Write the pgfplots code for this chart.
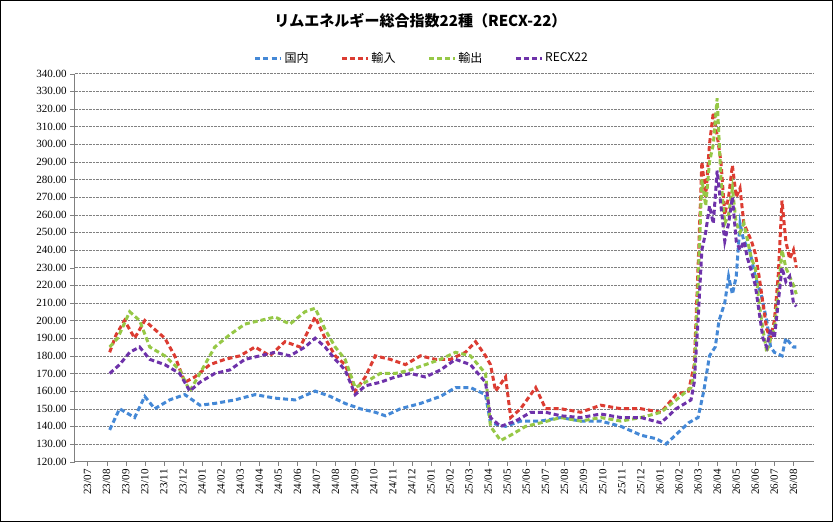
\documentclass[border=0pt]{standalone}
\usepackage{pgfplots}
\pgfplotsset{compat=1.18}
\usepackage{fontspec}
\setmainfont{Liberation Serif}
\newfontfamily\jp{Noto Sans CJK JP}
\definecolor{cB}{RGB}{68,136,214}
\definecolor{cR}{RGB}{220,60,50}
\definecolor{cG}{RGB}{150,200,70}
\definecolor{cP}{RGB}{110,50,170}
\begin{document}
\begin{tikzpicture}
\begin{axis}[
  scale only axis, width=737pt, height=387pt,
  xmin=-0.68, xmax=38.05, ymin=120, ymax=340,
  ytick distance=10,
  yticklabel style={/pgf/number format/.cd,fixed,fixed zerofill,precision=2, /tikz/.cd, font=\fontsize{11}{11}\selectfont},
  /pgf/number format/assume math mode=true,
  xtick={0,...,37},
  xticklabels={23/07,23/08,23/09,23/10,23/11,23/12,24/01,24/02,24/03,24/04,24/05,24/06,24/07,24/08,24/09,24/10,24/11,24/12,25/01,25/02,25/03,25/04,25/05,25/06,25/07,25/08,25/09,25/10,25/11,25/12,26/01,26/02,26/03,26/04,26/05,26/06,26/07,26/08},
  xticklabel style={rotate=90, anchor=east, font=\fontsize{11}{11}\selectfont},
  ymajorgrids, grid style={gray, densely dotted},
  axis x line*=bottom, axis y line*=left,
  axis line style={gray},
  tick style={gray}, tick align=outside,
  clip=false,
  legend columns=4,
  legend style={draw=none, at={(0.47,1.04)}, anchor=center, font=\jp\fontsize{12}{12}\selectfont, /tikz/every even column/.append style={column sep=30pt}},
  legend image code/.code={\draw[#1] (0pt,0pt) -- (0.9cm,0pt);},
  every axis plot/.append style={line width=3pt, dash pattern=on 5pt off 3pt},
]
\addplot[cB] coordinates {(1.16,138)(1.68,150)(2.47,145)(3.0,157)(3.52,150)(4.3,155)(5.1,158)(5.89,152)(6.67,153)(7.72,155)(8.78,158)(9.83,156)(10.88,155)(11.93,160)(12.72,157)(13.5,153)(14.29,150)(15.08,148)(15.61,146)(16.4,150)(17.45,153)(18.5,157)(19.29,162)(20.07,162)(20.86,158)(21.12,142)(21.91,140)(22.7,143)(23.75,143)(24.8,145)(25.85,143)(26.9,143)(27.96,140)(29.01,135)(29.8,133)(30.32,130)(31.11,138)(31.5,142)(32.0,145)(32.3,160)(32.6,180)(32.9,185)(33.1,200)(33.4,210)(33.6,225)(33.8,215)(34.0,225)(34.2,255)(34.4,245)(34.7,240)(35.0,225)(35.3,215)(35.6,200)(35.8,185)(36.0,182)(36.4,180)(36.6,190)(37.0,185)(37.15,185)};
\addlegendentry{国内}
\addplot[cR] coordinates {(1.16,182)(1.5,192)(1.94,200)(2.47,190)(3.0,200)(3.52,195)(4.05,190)(4.57,180)(5.1,165)(5.62,168)(6.41,175)(7.2,178)(7.99,180)(8.78,185)(9.56,180)(10.35,188)(11.14,185)(11.93,202)(12.45,190)(12.98,180)(13.5,175)(14.03,160)(14.56,168)(15.08,180)(15.87,178)(16.66,175)(17.45,180)(18.23,178)(19.02,178)(19.81,182)(20.34,188)(20.86,180)(21.12,175)(21.39,160)(21.91,168)(22.18,145)(22.7,150)(23.49,162)(24.01,150)(24.8,150)(25.85,148)(26.9,152)(27.96,150)(29.01,150)(30.06,148)(30.85,158)(31.5,160)(31.8,175)(32.0,230)(32.2,290)(32.4,270)(32.6,300)(32.8,318)(33.0,305)(33.2,290)(33.4,260)(33.6,270)(33.8,288)(34.0,270)(34.2,275)(34.4,255)(34.6,250)(34.8,245)(35.0,238)(35.2,225)(35.4,210)(35.6,195)(35.8,190)(36.0,200)(36.2,225)(36.4,268)(36.6,245)(36.8,235)(37.0,240)(37.15,230)};
\addlegendentry{輸入}
\addplot[cG] coordinates {(1.16,185)(1.58,190)(2.21,205)(2.73,200)(3.26,185)(4.05,180)(4.83,172)(5.36,160)(5.89,170)(6.67,185)(7.46,192)(8.25,198)(9.04,200)(9.83,202)(10.61,198)(11.4,205)(11.93,207)(12.45,195)(12.98,185)(13.5,178)(14.03,162)(14.56,165)(15.34,170)(16.13,170)(16.92,172)(17.71,175)(18.5,178)(19.29,182)(20.07,180)(20.86,170)(21.12,140)(21.65,132)(22.18,135)(22.96,140)(23.75,142)(24.8,145)(25.85,143)(26.9,145)(27.96,143)(29.01,145)(30.06,148)(30.85,155)(31.63,162)(31.8,170)(32.0,220)(32.2,280)(32.4,265)(32.6,290)(32.8,300)(33.0,326)(33.2,280)(33.4,255)(33.6,260)(33.8,275)(34.0,255)(34.2,250)(34.4,255)(34.6,245)(34.8,235)(35.0,230)(35.2,210)(35.4,195)(35.6,182)(35.8,190)(36.0,195)(36.2,215)(36.4,240)(36.6,230)(36.8,225)(37.0,220)(37.15,215)};
\addlegendentry{輸出}
\addplot[cP] coordinates {(1.16,170)(1.68,175)(2.21,182)(2.73,185)(3.26,178)(4.05,175)(4.83,170)(5.36,160)(5.89,165)(6.67,170)(7.46,172)(8.25,178)(9.04,180)(9.83,182)(10.61,180)(11.4,185)(11.93,190)(12.45,185)(12.98,178)(13.5,172)(14.03,158)(14.56,163)(15.34,165)(16.13,168)(16.92,170)(17.71,168)(18.5,172)(19.29,178)(20.07,175)(20.86,165)(21.12,145)(21.65,140)(22.44,143)(23.23,148)(24.01,148)(24.8,146)(25.85,145)(26.9,147)(27.96,145)(29.01,145)(30.06,142)(30.85,150)(31.63,155)(31.8,165)(32.0,200)(32.2,240)(32.4,250)(32.6,265)(32.8,255)(33.0,285)(33.2,265)(33.4,245)(33.6,255)(33.8,270)(34.0,245)(34.2,240)(34.4,245)(34.6,235)(34.8,228)(35.0,220)(35.2,205)(35.4,190)(35.6,185)(35.8,195)(36.0,190)(36.2,210)(36.4,230)(36.6,222)(36.8,225)(37.0,210)(37.15,208)};
\addlegendentry{RECX22}
\node[font=\jp\bfseries\fontsize{15}{15}\selectfont] at (rel axis cs:0.468,1.137) {リムエネルギー総合指数22種（RECX-22）};
\draw[black, line width=0.6pt] (rel axis cs:-0.1005,-0.155) rectangle (rel axis cs:1.026,1.189);
\end{axis}
\end{tikzpicture}
\end{document}
